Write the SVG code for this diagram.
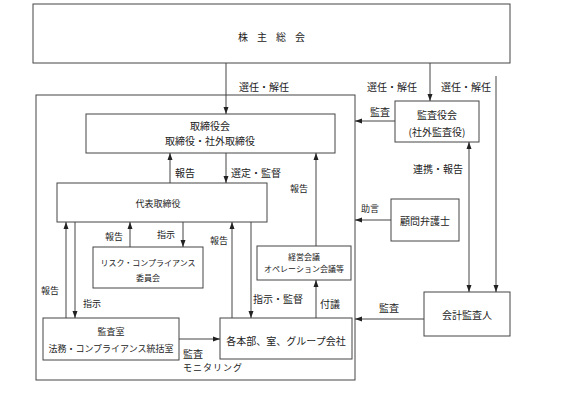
<svg xmlns="http://www.w3.org/2000/svg" width="566" height="397" viewBox="0 0 566 397">
<style>
rect.n{fill:#fff;stroke:#444;stroke-width:1}
text{font-family:"Noto Sans CJK JP","Noto Sans",sans-serif;fill:#222;text-anchor:middle;dominant-baseline:central}
.s10{font-size:10px}
.s9{font-size:9px}
.s8{font-size:8px}
.c line{stroke:#444;stroke-width:1;fill:none}
</style>
<defs>
<marker id="a" markerWidth="8" markerHeight="6" refX="7" refY="3" orient="auto" markerUnits="userSpaceOnUse">
<path d="M0,0.5 L7,3 L0,5.5 Z" fill="#222"/>
</marker>
<marker id="b" markerWidth="8" markerHeight="6" refX="0" refY="3" orient="auto" markerUnits="userSpaceOnUse">
<path d="M7,0.5 L0,3 L7,5.5 Z" fill="#222"/>
</marker>
</defs>
<rect width="566" height="397" fill="#fff"/>
<g id="outer"><rect class="n" x="36" y="95" width="319" height="285" fill="none"/></g>
<g id="shareholders"><rect class="n" x="33" y="4" width="477" height="59"/><text class="s10" x="276" y="36" letter-spacing="9">株主総会</text></g>
<g id="board"><rect class="n" x="86" y="114" width="249" height="39"/><text class="s10" x="210" y="125">取締役会</text><text class="s10" x="210" y="140">取締役・社外取締役</text></g>
<g id="auditboard"><rect class="n" x="395" y="101" width="84" height="41"/><text class="s10" x="437" y="114">監査役会</text><text class="s10" x="437" y="131">(社外監査役)</text></g>
<g id="ceo"><rect class="n" x="57" y="183" width="210" height="39"/><text class="s9" x="158" y="203">代表取締役</text></g>
<g id="lawyer"><rect class="n" x="391" y="199" width="68" height="42"/><text class="s10" x="425" y="220">顧問弁護士</text></g>
<g id="risk"><rect class="n" x="93" y="247" width="110" height="41"/><text class="s8" x="148" y="262">リスク・コンプライアンス</text><text class="s8" x="148" y="277">委員会</text></g>
<g id="mgmt"><rect class="n" x="257" y="246" width="94" height="34"/><text class="s8" x="304" y="256">経営会議</text><text class="s8" x="304" y="268">オペレーション会議等</text></g>
<g id="auditoffice"><rect class="n" x="43" y="318" width="136" height="42"/><text class="s9" x="111" y="331">監査室</text><text class="s9" x="111" y="348">法務・コンプライアンス統括室</text></g>
<g id="divisions"><rect class="n" x="220" y="318" width="132" height="41"/><text class="s10" x="286" y="340">各本部、室、グループ会社</text></g>
<g id="accountant"><rect class="n" x="424" y="292" width="86" height="44"/><text class="s10" x="467" y="314">会計監査人</text></g>
<g class="c" id="connectors">
<line x1="226" y1="63" x2="226" y2="114" marker-end="url(#a)"/>
<line x1="430" y1="63" x2="430" y2="101" marker-end="url(#a)"/>
<line x1="496" y1="76" x2="496" y2="292" marker-end="url(#a)"/>
<line x1="469" y1="142" x2="469" y2="292" marker-start="url(#b)" marker-end="url(#a)"/>
<line x1="395" y1="121" x2="355" y2="121" marker-end="url(#a)"/>
<line x1="391" y1="220" x2="355" y2="220" marker-end="url(#a)"/>
<line x1="424" y1="319" x2="355" y2="319" marker-end="url(#a)"/>
<line x1="170" y1="183" x2="170" y2="153" marker-end="url(#a)"/>
<line x1="226" y1="153" x2="226" y2="183" marker-end="url(#a)"/>
<line x1="316" y1="246" x2="316" y2="153" marker-end="url(#a)"/>
<line x1="316" y1="318" x2="316" y2="280" marker-end="url(#a)"/>
<line x1="66" y1="318" x2="66" y2="222" marker-end="url(#a)"/>
<line x1="75" y1="222" x2="75" y2="318" marker-end="url(#a)"/>
<line x1="130" y1="247" x2="130" y2="222" marker-end="url(#a)"/>
<line x1="183" y1="222" x2="183" y2="247" marker-end="url(#a)"/>
<line x1="232" y1="318" x2="232" y2="222" marker-end="url(#a)"/>
<line x1="251" y1="222" x2="251" y2="318" marker-end="url(#a)"/>
<line x1="179" y1="339" x2="220" y2="339" marker-end="url(#a)"/>
</g>
<g id="labels">
<text class="s10" x="264" y="86">選任・解任</text>
<text class="s10" x="392" y="86">選任・解任</text>
<text class="s10" x="466" y="86">選任・解任</text>
<text class="s10" x="380" y="111">監査</text>
<text class="s10" x="185" y="172">報告</text>
<text class="s10" x="256" y="172">選定・監督</text>
<text class="s10" x="438" y="168">連携・報告</text>
<text class="s9" x="299" y="188">報告</text>
<text class="s9" x="370" y="208">助言</text>
<text class="s9" x="114" y="236">報告</text>
<text class="s9" x="166" y="234">指示</text>
<text class="s9" x="219" y="240">報告</text>
<text class="s9" x="50" y="290">報告</text>
<text class="s9" x="92" y="303">指示</text>
<text class="s10" x="278" y="298">指示・監督</text>
<text class="s10" x="330" y="303">付議</text>
<text class="s10" x="389" y="307">監査</text>
<text class="s10" x="193" y="353">監査</text>
<text class="s9" x="213" y="367" letter-spacing="1">モニタリング</text>
</g>
</svg>
